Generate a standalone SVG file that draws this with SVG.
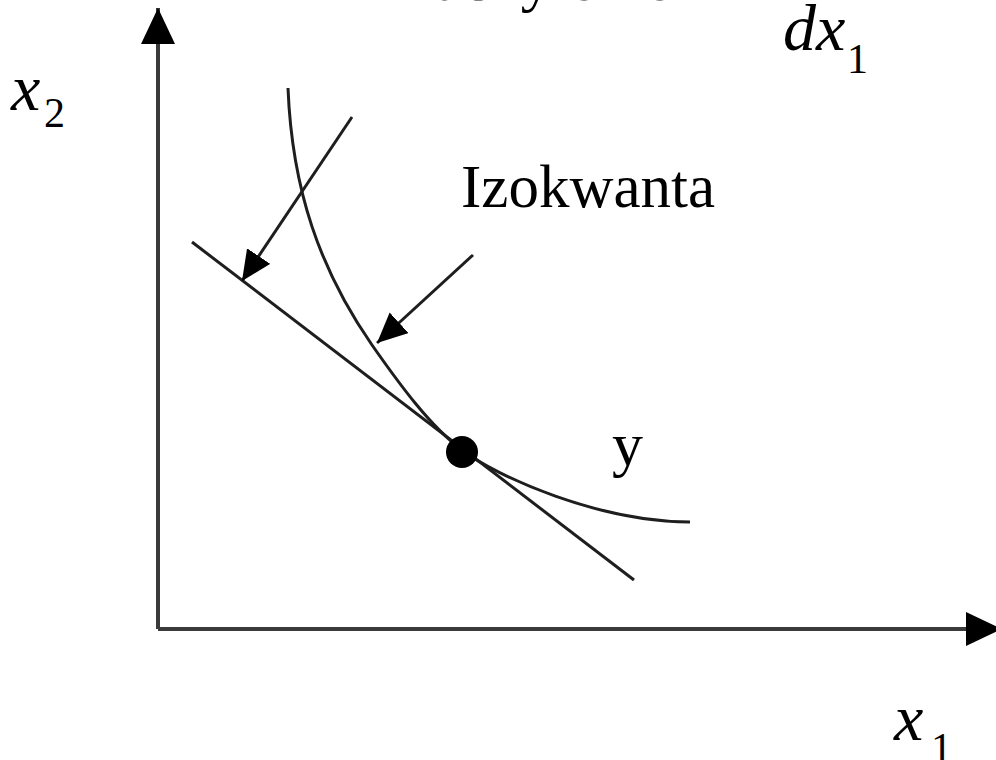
<svg xmlns="http://www.w3.org/2000/svg" width="996" height="760" viewBox="0 0 996 760">
<defs>
<style>
.t{font-family:"Liberation Serif","Times New Roman",serif;fill:#000;}
.i{font-style:italic;}
.ln{fill:none;stroke:#1e1e1e;stroke-width:3;}
.ax{fill:none;stroke:#3a3a3a;stroke-width:4;}
</style>
<marker id="ah" markerUnits="userSpaceOnUse" markerWidth="32" markerHeight="30" refX="30" refY="14" orient="auto">
<path d="M0,0 L30,14 L0,28 Z" fill="#000"/>
</marker>
<marker id="axh" markerUnits="userSpaceOnUse" markerWidth="40" markerHeight="36" refX="36" refY="17" orient="auto">
<path d="M0,0 L36,17 L0,34 Z" fill="#000"/>
</marker>
</defs>
<rect width="996" height="760" fill="#fff"/>
<g id="axes">
<line class="ax" x1="158" y1="629" x2="158" y2="8" marker-end="url(#axh)"/>
<line class="ax" x1="158" y1="629" x2="1002" y2="629" marker-end="url(#axh)"/>
</g>
<g id="labels">
<text class="t" x="390" y="0" font-size="62">Nachylenie</text>
<text class="t i" x="783" y="50" font-size="66">dx</text>
<text class="t" x="847" y="73" font-size="42">1</text>
<text class="t i" x="11" y="110" font-size="66">x</text>
<text class="t" x="44" y="127" font-size="42">2</text>
<text class="t i" x="894" y="740" font-size="66">x</text>
<text class="t" x="931" y="762" font-size="42">1</text>
</g>
<g id="izokwanta">
<path class="ln" d="M288,88 C292,190 320,270 372,345 C400,385 430,426 462,450 C497,477 600,522 690,522"/>
<text class="t" x="461" y="207" font-size="61">Izokwanta</text>
</g>
<g id="y-label"><text class="t" x="612" y="465" font-size="62">y</text></g>
<g id="tangent">
<line class="ln" x1="192" y1="242" x2="634" y2="580"/>
</g>
<g id="point"><circle cx="462" cy="452" r="16" fill="#000"/></g>
<g id="connectors">
<line class="ln" x1="352" y1="117" x2="242" y2="281" marker-end="url(#ah)"/>
<line class="ln" x1="473" y1="255" x2="377" y2="343" marker-end="url(#ah)"/>
</g>
</svg>
